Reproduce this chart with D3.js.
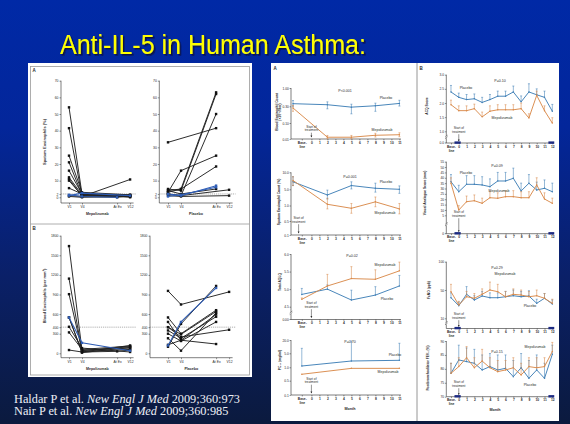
<!DOCTYPE html>
<html><head><meta charset="utf-8">
<script src="https://cdn.jsdelivr.net/npm/d3@7"></script>
<style>html,body{margin:0;padding:0;background:#0b1a44;overflow:hidden}svg{display:block}</style>
</head><body><svg id="c" width="570" height="424"></svg>
<script>
// ================= DATA =================
const titleText = "Anti-IL-5 in Human Asthma:";
const citeAuthors = ["Haldar P et al. ", "Nair P et al. "];
const citeJournal = "New Engl J Med";
const citeRefs = [" 2009;360:973", " 2009;360:985"];

// Left figure (Haldar): individual subjects, values at V1, V4, At Ex, V12 (null = not measured)
const visits = ["V1", "V4", "At Ex", "V12"];
const sputumTicks = [0, 2, 10, 20, 30, 40, 50, 60, 70];
const sputumRef = 2;
const sputumMepoBlack = [
  [54, 2, null, 1], [41.5, 1, null, 0.5], [25, 3, null, 1.5], [21, 1.5, null, 0.5],
  [16, 2, null, 1], [12, 1.5, null, 0.5], [11, 0.5, 0, 1], [10, 1, 0.5, 0],
  [5.5, 2, null, 1.5], [1, 0.5, null, 10.7], [0.5, 0, 0.5, 1]
];
const sputumMepoBlue = [[1, 2.5, null, 1], [1.5, 0.5, 0, null]];
const sputumPlaceboBlack = [
  [33, null, 41.5, null], [3, 16, 25, null], [4, 5, 63, null], [5, 4, 62, null],
  [2, 1, 50, null], [3, 5, 18.5, null], [2, 1, null, 4.5], [1, 0.5, null, 1], [4, 2, 5, null]
];
const sputumPlaceboBlue = [[2, 1, 7, null], [0.5, 1.5, 6, null]];

const bloodTicks = [0, 300, 400, 600, 900, 1200, 1500, 1800];
const bloodRef = 400;
const bloodMepoBlack = [
  [1641, 50, null, 80], [1143, 30, null, 60], [905, 40, null, 100], [549, 20, 30, 50],
  [320, 60, null, 110], [50, 20, null, 120], [406, 80, null, 20], [549, 10, null, 90]
];
const bloodMepoBlue = [[549, 160, null, 40]];
const bloodPlaceboBlack = [
  [955, 747, null, 940], [549, 300, 660, null], [100, 450, 1031, null], [480, 200, 594, null],
  [400, 290, 640, null], [350, 230, 560, null], [300, 188, 480, null], [230, 40, 620, null],
  [130, 200, 142, null], [400, 250, null, 360]
];
const bloodPlaceboBlue = [[120, 480, 1000, null]];

// Right figure A (Haldar): group means by month ("BL" = baseline)
const a1Months = ["BL", 2, 5, 8, 11];
const a1Placebo = [0.40, 0.36, 0.29, 0.32, 0.41];
const a1PlaceboLo = [0.30, 0.27, 0.21, 0.24, 0.31];
const a1PlaceboHi = [0.52, 0.47, 0.38, 0.42, 0.53];
const a1Mepo = [0.28, 0.020, 0.020, 0.031, 0.034];
const a1MepoLo = [0.24, 0.012, 0.012, 0.021, 0.023];
const a1MepoHi = [0.33, 0.030, 0.030, 0.042, 0.045];

const a2Months = ["BL", 2, 5, 8, 11];
const a2Placebo = [7.2, 3.6, 6.1, 5.3, 5.0];
const a2PlaceboLo = [6.1, 2.6, 5.1, 4.3, 4.0];
const a2PlaceboHi = [8.7, 4.8, 7.2, 6.8, 6.0];
const a2Mepo = [7.6, 1.3, 0.91, 1.9, 0.89];
const a2MepoLo = [6.1, 0.89, 0.75, 0.96, 0.73];
const a2MepoHi = [8.7, 2.8, 1.5, 3.1, 1.5];

const a3Months = ["BL", 2, 5, 8, 11];
const a3Placebo = [4.85, 5.00, 4.69, 4.83, 5.09];
const a3PlaceboHi = [5.02, 5.12, 4.97, 5.07, 5.39];
const a3Mepo = [4.71, 5.09, 5.30, 5.28, 5.52];
const a3MepoHi = [4.75, 5.42, 5.64, 5.55, 5.77];

const a4Months = ["BL", 5, 11];
const a4Placebo = [1.37, 2.8, 3.0];
const a4PlaceboHi = [10.6, 18.9, 16.3];
const a4Mepo = [0.74, 0.96, 0.96];

const pValuesA = ["P<0.001", "P=0.001", "P=0.02", "P=0.70"];

// Right figure B (Nair): baseline then months 0..12
const bMonths = ["BL", 0, 1, 2, 3, 4, 5, 6, 7, 8, 9, 10, 11, 12];
const b1Placebo = [2.39, 2.20, 2.12, 2.15, 2.02, 2.12, 2.24, 2.24, 2.39, 2.04, 2.39, 2.29, 2.20, 1.71];
const b1PlaceboHi = [2.62, 2.35, 2.30, 2.32, 2.20, 2.30, 2.42, 2.42, 2.60, 2.25, 2.68, 2.50, 2.42, 1.95];
const b1Mepo = [1.94, 1.73, 1.73, 1.80, 1.51, 1.71, 1.76, 1.76, 1.76, 1.80, 1.47, 2.27, 1.73, 1.29];
const b1MepoHi = [2.10, 1.90, 1.90, 1.96, 1.68, 1.90, 1.94, 1.94, 1.94, 2.00, 1.62, 2.42, 1.90, 1.48];

const b2Placebo = [36.3, 27.0, 33.9, 33.9, 33.3, 31.7, 37.0, 37.0, 39.5, 27.7, 34.9, 28.6, 30.2, 27.0];
const b2PlaceboHi = [43, 33, 42, 42, 41, 39, 45, 45, 49, 35, 43, 36, 38, 35];
const b2Mepo = [34.9, 9.9, 17.7, 18.6, 16.2, 21.4, 20.9, 22.4, 22.4, 21.4, 21.4, 33.3, 20.2, 16.2];
const b2MepoHi = [40, 14, 23, 24, 21, 27, 26, 28, 28, 27, 27, 40, 26, 21];

const b3Placebo = [39.1, 27.8, 43.9, 35.9, 41.5, 39.1, 39.1, 40.5, 41.9, 40.5, 41.5, 31.2, 38.3, 30.2];
const b3PlaceboHi = [46, 33, 56, 42, 48, 46, 46, 48, 50, 48, 49, 37, 45, 36];
const b3Mepo = [47.6, 28.8, 40.5, 38.3, 43.9, 50, 47.6, 40.5, 43.9, 42.9, 40.5, 41.9, 38.3, 31.2];
const b3MepoHi = [60, 34, 48, 45, 52, 64, 60, 48, 52, 50, 48, 50, 45, 37];

const b4Placebo = [78.4, 83.2, 82.6, 82.0, 79.6, 80.8, 79.6, 80.2, 77.2, 80.4, 76.6, 79.6, 76.6, 85.2];
const b4PlaceboHi = [82, 88.5, 87.5, 87, 85, 85.5, 85, 85, 83, 85.5, 83, 85, 82, 88.5];
const b4Mepo = [78.4, 80.8, 84.0, 80.4, 82.8, 80.4, 79.0, 79.6, 80.4, 77.8, 80.8, 80.4, 80.8, 86.2];
const b4MepoHi = [82, 84, 88, 84, 87, 84, 83, 83, 84, 82, 84, 84, 84, 89.5];

const pValuesB = ["P=0.10", "P=0.09", "P=0.29", "P=0.15"];
const steroidPeriods = [[-0.55, 0.25], [11.5, 12.25]];

// ================= LAYOUT / STYLE =================
const FONT = "'Liberation Sans', Arial, sans-serif";
const BLUE = "#3f7fb6", ORANGE = "#d98a4b", INK = "#2a2a2a";
const svg = d3.select("#c");

const defs = svg.append("defs");
const grad = defs.append("linearGradient").attr("id", "bg").attr("x1", 0).attr("y1", 0).attr("x2", 0).attr("y2", 1);
grad.selectAll("stop").data([[0, "#0029a6"], [0.3, "#03269a"], [0.65, "#0a2068"], [1, "#0b1a3e"]])
  .join("stop").attr("offset", d => d[0]).attr("stop-color", d => d[1]);
const shadow = defs.append("filter").attr("id", "sh").attr("x", "-5%").attr("y", "-20%").attr("width", "110%").attr("height", "150%");
shadow.append("feDropShadow").attr("dx", 1.6).attr("dy", 1.6).attr("stdDeviation", 0.4).attr("flood-color", "#0a0f30").attr("flood-opacity", 0.85);
svg.append("rect").attr("width", 570).attr("height", 424).attr("fill", "url(#bg)");

// title
svg.append("text").attr("x", 60).attr("y", 54).attr("font-family", FONT).attr("font-size", 27)
  .attr("textLength", 306).attr("lengthAdjust", "spacingAndGlyphs").attr("fill", "#ffff00")
  .attr("filter", "url(#sh)").text(titleText);

// citations
citeAuthors.forEach((a, i) => {
  const t = svg.append("text").attr("x", 14).attr("y", 402.5 + i * 12.5).attr("font-family", "'Liberation Serif', 'Times New Roman', serif")
    .attr("font-size", 12.3).attr("fill", "#eef0f6");
  t.append("tspan").text(a);
  t.append("tspan").attr("font-style", "italic").text(citeJournal);
  t.append("tspan").text(citeRefs[i]);
});

function ln(g, x1, y1, x2, y2, stroke = INK, w = 0.6) {
  return g.append("line").attr("x1", x1).attr("y1", y1).attr("x2", x2).attr("y2", y2).attr("stroke", stroke).attr("stroke-width", w);
}
function txt(g, s, x, y, fs, opts = {}) {
  return g.append("text").attr("x", x).attr("y", y).attr("font-family", FONT).attr("font-size", fs)
    .attr("text-anchor", opts.anchor || "middle").attr("font-weight", opts.weight || "normal")
    .attr("fill", opts.fill || INK).attr("transform", opts.rot ? `rotate(-90,${x},${y})` : null).text(s);
}
function styleAxis(a, fs) {
  a.attr("font-size", fs).attr("font-family", FONT);
  a.selectAll(".tick line").attr("stroke", INK).attr("stroke-width", 0.5);
  a.selectAll(".tick text").attr("fill", INK);
}

// ---------- Left panel ----------
const left = svg.append("g");
left.append("rect").attr("x", 28).attr("y", 63).attr("width", 224).attr("height", 314).attr("fill", "#fff");
left.append("rect").attr("x", 30.5).attr("y", 66.5).attr("width", 219).attr("height", 308.5).attr("fill", "none").attr("stroke", "#9a9a9a").attr("stroke-width", 0.8);
ln(left, 30.5, 224, 249.5, 224, "#9a9a9a", 0.8);
txt(left, "A", 34, 71.5, 4.5, { weight: "bold" });
txt(left, "B", 34, 230, 4.5, { weight: "bold" });

const visitSlot = [0, 1, 3.7, 4.7];
const VISIT_STEP = 13;

function spaghetti(c) {
  const g = svg.append("g");
  const x = d3.scaleLinear().domain([0, 1]).range([c.x0, c.x0 + VISIT_STEP]);
  const y = d3.scaleLinear().domain(c.yDomain).range(c.yRange);
  const ya = g.append("g").attr("transform", `translate(${c.yAxisX},0)`)
    .call(d3.axisLeft(y).tickValues(c.yTicks).tickFormat(d3.format("d")).tickSize(1.5).tickSizeOuter(0).tickPadding(1));
  ya.select(".domain").remove();
  styleAxis(ya, 3.4);
  ln(g, c.yAxisX, c.yRange[1], c.yAxisX, c.xAxisY);
  const xa = g.append("g").attr("transform", `translate(0,${c.xAxisY})`)
    .call(d3.axisBottom(x).tickValues(visitSlot).tickFormat((d, i) => visits[i]).tickSize(1.5).tickSizeOuter(0).tickPadding(1));
  xa.select(".domain").remove();
  styleAxis(xa, 3.4);
  const xEnd = x(visitSlot[3]) + 3.5;
  ln(g, c.yAxisX, c.xAxisY, xEnd, c.xAxisY);
  ln(g, c.yAxisX, y(c.ref), xEnd + 3, y(c.ref), "#7a7a7a", 0.6).attr("stroke-dasharray", "1.2,0.9");
  const path = d3.line().x(d => x(visitSlot[d[0]])).y(d => y(d[1]));
  const drawSet = (set, color, w) => set.forEach(s => {
    const pts = s.map((v, i) => [i, v]).filter(d => d[1] != null);
    g.append("path").attr("d", path(pts)).attr("fill", "none").attr("stroke", color).attr("stroke-width", w);
    g.selectAll(null).data(pts).join("rect")
      .attr("x", d => x(visitSlot[d[0]]) - 1.2).attr("y", d => y(d[1]) - 1.2)
      .attr("width", 2.4).attr("height", 2.4).attr("fill", color === "#222" ? "#111" : color);
  });
  drawSet(c.black, "#222", 0.95);
  drawSet(c.blue, "#2f5db5", 1.05);
  txt(g, c.xTitle, (c.yAxisX + xEnd) / 2, c.xTitleY, 3.6, { weight: "bold" });
  if (c.yTitle) txt(g, c.yTitle, c.yTitleX, c.yTitleY, 4, { rot: true, weight: "bold" });
}

spaghetti({ x0: 69, yAxisX: 61, xAxisY: 203, yDomain: [0, 70], yRange: [197.3, 80.7], yTicks: sputumTicks, ref: sputumRef,
  black: sputumMepoBlack, blue: sputumMepoBlue, xTitle: "Mepolizumab", xTitleY: 215, yTitle: "Sputum Eosinophils (%)", yTitleX: 46, yTitleY: 142 });
spaghetti({ x0: 168, yAxisX: 159.3, xAxisY: 203, yDomain: [0, 70], yRange: [197.3, 80.7], yTicks: sputumTicks, ref: sputumRef,
  black: sputumPlaceboBlack, blue: sputumPlaceboBlue, xTitle: "Placebo", xTitleY: 215 });
spaghetti({ x0: 69, yAxisX: 61, xAxisY: 357.7, yDomain: [0, 1800], yRange: [353.3, 235.7], yTicks: bloodTicks, ref: bloodRef,
  black: bloodMepoBlack, blue: bloodMepoBlue, xTitle: "Mepolizumab", xTitleY: 370, yTitle: "Blood Eosinophils (per mm\u00B3)", yTitleX: 46, yTitleY: 296 });
spaghetti({ x0: 168, yAxisX: 150, xAxisY: 357.7, yDomain: [0, 1800], yRange: [353.3, 235.7], yTicks: bloodTicks, ref: bloodRef,
  black: bloodPlaceboBlack, blue: bloodPlaceboBlue, xTitle: "Placebo", xTitleY: 370 });

// ---------- Right panel ----------
const right = svg.append("g");
right.append("rect").attr("x", 271).attr("y", 63).attr("width", 288).attr("height", 358).attr("fill", "#fff");
ln(right, 417, 63, 417, 421, "#8a8a8a", 0.9);
txt(right, "A", 273.5, 70, 4.5, { weight: "bold", anchor: "start" });
txt(right, "B", 419.5, 70, 4.5, { weight: "bold", anchor: "start" });

const colA = { x: d3.scaleLinear().domain([-2.55, 11]).range([291, 399.4]), axisX: 291, blTick: -1.2, maxM: 11 };
const colB = { x: d3.scaleLinear().domain([-1.6, 12]).range([446.3, 552.3]), axisX: 446.3, blTick: -1, maxM: 12, steroid: true };

function trial(c) {
  const col = c.col, x = col.x, g = svg.append("g");
  const y = d3.scaleLinear().domain(c.yDomain).range(c.yRange);
  const xm = m => x(m === "BL" ? c.blMonth : m);
  const yTop = d3.min(c.yRange), yBot = d3.max(c.yRange);
  const ya = g.append("g").attr("transform", `translate(${col.axisX},0)`)
    .call(d3.axisLeft(y).tickValues(c.yTicks).tickFormat(c.fmt).tickSize(1.4).tickSizeOuter(0).tickPadding(0.8));
  ya.select(".domain").remove();
  styleAxis(ya, 3.3);
  if (c.brk) {
    const by = (yBot + c.axisY) / 2;
    ln(g, col.axisX, yTop, col.axisX, by - 1);
    g.append("path").attr("d", `M${col.axisX - 1.3},${by} L${col.axisX + 1.3},${by - 2} M${col.axisX - 1.3},${by + 1.5} L${col.axisX + 1.3},${by - 0.5}`)
      .attr("stroke", INK).attr("stroke-width", 0.5);
    ln(g, col.axisX, by + 1, col.axisX, c.axisY);
    if (c.zero) {
      ln(g, col.axisX - 1.4, c.axisY, col.axisX, c.axisY);
      txt(g, c.zero, col.axisX - 2.2, c.axisY + 1.1, 3.3, { anchor: "end" });
    }
  } else ln(g, col.axisX, yTop, col.axisX, c.axisY);
  const xt = [col.blTick].concat(d3.range(0, col.maxM + 1));
  const xa = g.append("g").attr("transform", `translate(0,${c.axisY})`)
    .call(d3.axisBottom(x).tickValues(xt).tickFormat(d => d === col.blTick ? "Base-" : d).tickSize(1.4).tickSizeOuter(0).tickPadding(0.8));
  xa.select(".domain").remove();
  styleAxis(xa, 3.3);
  xa.selectAll(".tick text").attr("font-weight", "bold");
  xa.selectAll(".tick").filter(d => d === col.blTick).append("text").attr("y", 8.6).attr("fill", INK)
    .attr("font-weight", "bold").attr("text-anchor", "middle").text("line");
  ln(g, col.axisX, c.axisY, x(col.maxM) + 1.5, c.axisY);
  if (col.steroid) steroidPeriods.forEach(p => g.append("rect").attr("x", x(p[0])).attr("y", c.axisY - 1.6)
    .attr("width", x(p[1]) - x(p[0])).attr("height", 2.4).attr("fill", "#1c2a82"));

  c.series.forEach(s => {
    const pts = c.months.map((m, i) => ({ m, v: s.v[i], lo: s.lo ? s.lo[i] : null, hi: s.hi ? s.hi[i] : null }));
    pts.forEach(p => {
      [p.lo, p.hi].forEach(e => {
        if (e == null) return;
        ln(g, xm(p.m), y(p.v), xm(p.m), y(e), s.color, 0.55);
        ln(g, xm(p.m) - 1, y(e), xm(p.m) + 1, y(e), s.color, 0.55);
      });
    });
    g.append("path").attr("d", d3.line().x(p => xm(p.m)).y(p => y(p.v))(pts))
      .attr("fill", "none").attr("stroke", s.color).attr("stroke-width", 0.95);
    g.selectAll(null).data(pts).join("circle").attr("cx", p => xm(p.m)).attr("cy", p => y(p.v)).attr("r", 0.75).attr("fill", s.color);
  });

  txt(g, c.p, c.pPos[0], c.pPos[1], 3.6);
  c.labels.forEach(l => txt(g, l[0], l[1], l[2], 3.5));
  const sx = x(c.startM);
  txt(g, "Start of", sx, c.startY, 3.2);
  txt(g, "treatment", sx, c.startY + 3.8, 3.2);
  ln(g, sx, c.startY + 5.2, sx, c.axisY - 2, INK, 0.5);
  g.append("path").attr("d", `M${sx - 0.9},${c.axisY - 3.4} L${sx + 0.9},${c.axisY - 3.4} L${sx},${c.axisY - 1.6} Z`).attr("fill", INK);
  c.yLab.forEach((s, i) => txt(g, s, c.ylX + i * 3.8, c.ylY, 3.3, { rot: true, weight: "bold" }));
  if (c.month) txt(g, "Month", c.month[0], c.month[1], 3.7, { weight: "bold" });
}

const f2 = d => d3.format(".2f")(d), f1 = d => d3.format(".1f")(d), f0 = d => d3.format("d")(d);

trial({ col: colA, yDomain: [0.01, 0.1, 0.3, 1], yRange: [139, 123, 106.3, 88], yTicks: [0.01, 0.1, 0.3, 1], fmt: f2, axisY: 139,
  blMonth: -2.3, months: a1Months,
  series: [{ v: a1Placebo, lo: a1PlaceboLo, hi: a1PlaceboHi, color: BLUE }, { v: a1Mepo, lo: a1MepoLo, hi: a1MepoHi, color: ORANGE }],
  p: pValuesA[0], pPos: [345, 92], labels: [["Placebo", 386, 99], ["Mepolizumab", 382, 130.5]], startM: 0, startY: 127.5,
  yLab: ["Blood Eosinophil Count", "(\u00D710\u207B\u2079/liter)"], ylX: 277.5, ylY: 112 });
trial({ col: colA, yDomain: [0.1, 0.5, 1, 5, 10], yRange: [235, 221, 205.5, 189.3, 172.3], yTicks: [0.1, 0.5, 1, 5, 10], fmt: f1, axisY: 235,
  blMonth: -2.3, months: a2Months,
  series: [{ v: a2Placebo, lo: a2PlaceboLo, hi: a2PlaceboHi, color: BLUE }, { v: a2Mepo, lo: a2MepoLo, hi: a2MepoHi, color: ORANGE }],
  p: pValuesA[1], pPos: [350, 178], labels: [["Placebo", 386, 183], ["Mepolizumab", 385, 214]], startM: -1.6, startY: 219,
  yLab: ["Sputum Eosinophil Count (%)"], ylX: 280, ylY: 202 });
trial({ col: colA, yDomain: [4.5, 6.0], yRange: [306.7, 254], yTicks: [4.5, 5.0, 5.5, 6.0], fmt: f1, axisY: 319.5, brk: true, zero: "0.00",
  blMonth: -1.2, months: a3Months,
  series: [{ v: a3Placebo, hi: a3PlaceboHi, color: BLUE }, { v: a3Mepo, hi: a3MepoHi, color: ORANGE }],
  p: pValuesA[2], pPos: [352, 257], labels: [["Mepolizumab", 385, 265.5], ["Placebo", 387, 299.5]], startM: 0, startY: 304,
  yLab: ["Total AQLQ"], ylX: 280.5, ylY: 282 });
trial({ col: colA, yDomain: [0.1, 0.5, 1, 5, 20], yRange: [395, 380.7, 367.3, 353.3, 340], yTicks: [0.1, 0.5, 1, 5, 20], fmt: f1, axisY: 395,
  blMonth: -1.2, months: a4Months,
  series: [{ v: a4Placebo, hi: a4PlaceboHi, color: BLUE }, { v: a4Mepo, color: ORANGE }],
  p: pValuesA[3], pPos: [350, 343], labels: [["Placebo", 395, 356], ["Mepolizumab", 388, 373]], startM: 0, startY: 379.5,
  yLab: ["PC\u2082\u2080 (mg/ml)"], ylX: 280.5, ylY: 360, month: [350, 410] });

trial({ col: colB, yDomain: [1, 3], yRange: [131.3, 74.7], yTicks: [1, 1.5, 2, 2.5, 3], fmt: f1, axisY: 143, brk: true, zero: "0.0",
  blMonth: -1, months: bMonths,
  series: [{ v: b1Placebo, hi: b1PlaceboHi, color: BLUE }, { v: b1Mepo, hi: b1MepoHi, color: ORANGE }],
  p: pValuesB[0], pPos: [500, 82], labels: [["Placebo", 466, 88.5], ["Mepolizumab", 502, 119]], startM: 0, startY: 129,
  yLab: ["ACQ Score"], ylX: 428, ylY: 106 });
trial({ col: colB, yDomain: [5, 55], yRange: [215.3, 161.7], yTicks: d3.range(5, 56, 5), fmt: f0, axisY: 233.7, brk: true, zero: "0",
  blMonth: -1, months: bMonths,
  series: [{ v: b2Placebo, hi: b2PlaceboHi, color: BLUE }, { v: b2Mepo, hi: b2MepoHi, color: ORANGE }],
  p: pValuesB[1], pPos: [497, 167], labels: [["Placebo", 466, 173.5], ["Mepolizumab", 499, 191.5]], startM: 0, startY: 213,
  yLab: ["Visual Analogue Score (mm)"], ylX: 425.5, ylY: 193 });
trial({ col: colB, yDomain: [10, 50, 100], yRange: [318.3, 290, 261.7], yTicks: [10, 50, 100], fmt: f0, axisY: 328.5, brk: true,
  blMonth: -1, months: bMonths,
  series: [{ v: b3Placebo, hi: b3PlaceboHi, color: BLUE }, { v: b3Mepo, hi: b3MepoHi, color: ORANGE }],
  p: pValuesB[2], pPos: [497, 268.5], labels: [["Mepolizumab", 505, 274.5], ["Placebo", 530, 307]], startM: 0, startY: 315,
  yLab: ["F\u1D07NO (ppb)"], ylX: 430, ylY: 290 });
trial({ col: colB, yDomain: [70, 90], yRange: [396.7, 341], yTicks: [70, 75, 80, 85, 90], fmt: f0, axisY: 396.7,
  blMonth: -1, months: bMonths,
  series: [{ v: b4Placebo, hi: b4PlaceboHi, color: BLUE }, { v: b4Mepo, hi: b4MepoHi, color: ORANGE }],
  p: pValuesB[3], pPos: [497, 352.5], labels: [["Mepolizumab", 535, 348], ["Placebo", 530, 385.5]], startM: 0, startY: 383,
  yLab: ["Postbronchodilator FEV\u2081 (%)"], ylX: 428.5, ylY: 368, month: [495, 411] });
</script></body></html>
